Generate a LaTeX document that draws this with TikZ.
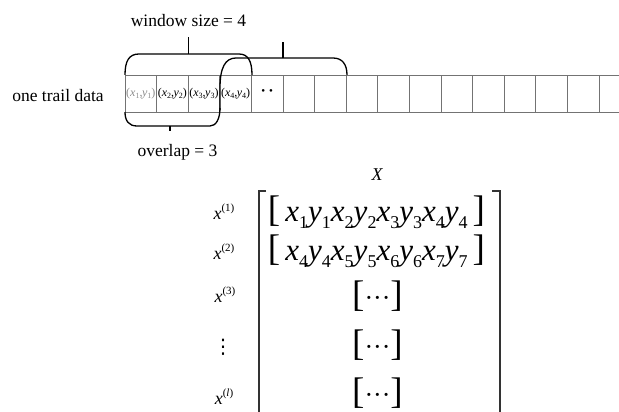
\documentclass[tikz,border=0pt]{standalone}
\usepackage{fontspec}
\setmainfont{Liberation Serif}
\newfontfamily\dejavu{DejaVu Sans}
\newcommand\sbs[1]{\raisebox{-0.23em}{\fontsize{18}{18}\selectfont\upshape #1}}
\newcommand\sps[1]{\raisebox{0.45em}{\fontsize{11}{11}\selectfont\upshape #1}}
\newcommand\csub[1]{\raisebox{-0.2em}{\fontsize{8}{8}\selectfont\upshape #1}}
\newcommand\cellxy[1]{(\textit{x}\csub{#1},\hspace{-0.5pt}\textit{y}\csub{#1})}
\newcommand\pxy[1]{\textit{x}\sbs{#1}\textit{y}\sbs{#1}}
\newcommand\lb{{\fontsize{37}{37}\selectfont[}}
\newcommand\rb{{\fontsize{37}{37}\selectfont]}}
\newcommand\mdots{{\fontsize{26}{26}\selectfont···}}
\begin{document}
\begin{tikzpicture}[x=1pt,y=-1pt,
  cell/.style={draw=black!55, line width=0.9pt, minimum width=31.6pt, minimum height=37pt, inner sep=0pt, outer sep=0pt, font=\fontsize{12}{12}\selectfont},
  edge/.style={draw=black!55, line width=0.9pt},
  brk/.style={draw=black, line width=1.3pt},
  mbk/.style={draw=black!80, line width=1.1pt},
  lbl/.style={font=\fontsize{17.5}{20}\selectfont, inner sep=0pt},
  rowlab/.style={font=\fontsize{18}{18}\selectfont, inner sep=0pt},
  rowtxt/.style={font=\fontsize{31}{31}\selectfont, inner sep=0pt}]
\useasboundingbox (0,0) rectangle (619,412);
% cells
\node[cell, text=black!45] (c1) at ({125+31.6*0.5},93.5) {\cellxy{1}};
\node[cell] (c2) at ({125+31.6*1.5},93.5) {\cellxy{2}};
\node[cell] (c3) at ({125+31.6*2.5},93.5) {\cellxy{3}};
\node[cell] (c4) at ({125+31.6*3.5},93.5) {\cellxy{4}};
\node[cell] (c5) at ({125+31.6*4.5},93.5) {\raisebox{3pt}{\fontsize{11}{11}\selectfont •\hspace{4pt}•}};
\foreach \i in {6,...,16} \node[cell] (c\i) at ({125+31.6*(\i-0.5)},93.5) {};
\coordinate (e1) at (619,75);
\coordinate (e2) at (619,112);
\draw[edge] (c16.north east) -- (e1);
\draw[edge] (c16.south east) -- (e2);
% labels
\node[lbl, anchor=base] (ws) at (188.5,27) {window size = 4};
\node[lbl, anchor=base] (ov) at (177.5,157) {overlap = 3};
\node[lbl, anchor=base] (otd) at (58,102) {one trail data};
% window brackets
\draw[brk] (125,75) .. controls (125,61) and (129,54) .. (139,54) -- (239,54) .. controls (248,54) and (252,61) .. (252,75);
\draw[brk] (188.5,54) -- (188.5,37);
\draw[brk] (220,110) -- (220,88) .. controls (220,68) and (225,58) .. (236,58) -- (333,58) .. controls (342,58) and (347,64) .. (347,75);
\draw[brk] (283,58) -- (283,42);
\draw[brk] (125,112) .. controls (125,121) and (129,126) .. (137,126) -- (210,126) .. controls (216,126) and (220,119) .. (220,108);
\draw[brk] (170,126) -- (170,131);
% matrix
\node[font=\fontsize{18}{18}\selectfont\itshape, inner sep=0pt] (X) at (377,175) {X};
\draw[mbk] (266,191) -- (259,191) -- (259,412);
\draw[mbk] (492,191) -- (500,191) -- (500,412);
\node[rowtxt] (r1) at (376.5,212) {\lb\,\pxy{1}\pxy{2}\pxy{3}\pxy{4}\,\rb};
\node[rowtxt] (r2) at (376.5,251) {\lb\,\textit{x}\sbs{4}\textit{y}\sbs{4}\pxy{5}\pxy{6}\pxy{7}\,\rb};
\node[rowtxt] (r3) at (377.5,296) {\lb\mdots\rb};
\node[rowtxt] (r4) at (377.5,345) {\lb\mdots\rb};
\node[rowtxt] (r5) at (377.5,393.5) {\lb\mdots\rb};
\node[rowlab] (l1) at (224,212) {\textit{x}\sps{(1)}};
\node[rowlab] (l2) at (224,252) {\textit{x}\sps{(2)}};
\node[rowlab] (l3) at (225,295) {\textit{x}\sps{(3)}};
\node[rowlab] (l4) at (223,347) {\dejavu\fontsize{20}{20}\selectfont ⋮};
\node[rowlab] (l5) at (224,397) {\textit{x}\sps{(\textit{l})}};
\end{tikzpicture}
\end{document}
